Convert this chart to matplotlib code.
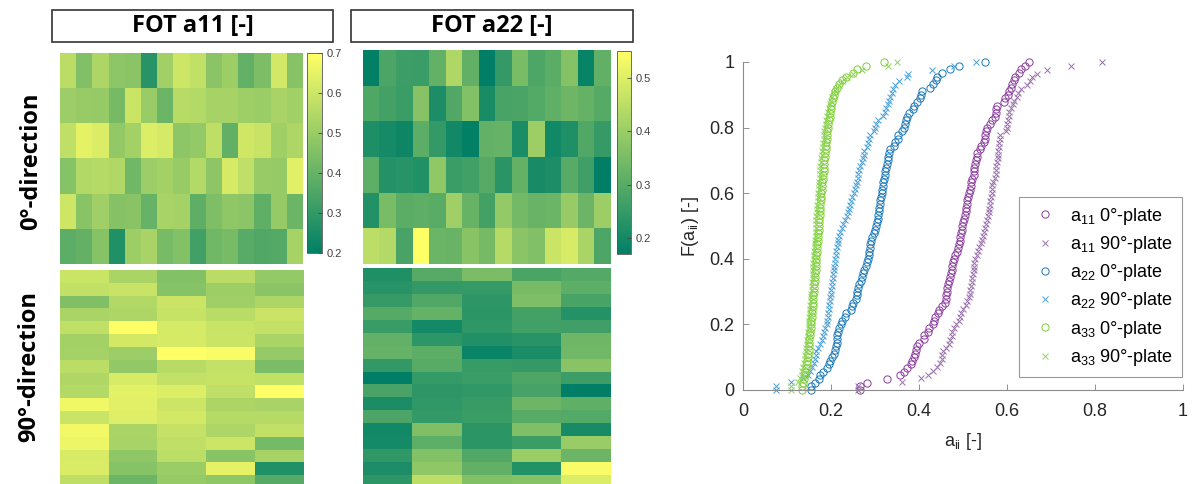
import numpy as np
import matplotlib.pyplot as plt
from matplotlib.patches import Rectangle

plt.rcParams['font.family'] = 'Liberation Sans'
plt.rcParams['mathtext.fontset'] = 'custom'
plt.rcParams['mathtext.rm'] = 'Liberation Sans'
plt.rcParams['mathtext.it'] = 'Liberation Sans'

# ------------------------------------------------------------------
# FOT components per cell, 0-direction (6 x 15) and 90-direction (17 x 5)
# ------------------------------------------------------------------
a11_0 = [
    [0.566, 0.453, 0.541, 0.476, 0.471, 0.281, 0.518, 0.604, 0.577, 0.473, 0.507, 0.394, 0.443, 0.611, 0.464],
    [0.505, 0.497, 0.493, 0.431, 0.596, 0.499, 0.412, 0.561, 0.552, 0.528, 0.525, 0.509, 0.503, 0.531, 0.516],
    [0.574, 0.650, 0.628, 0.486, 0.519, 0.631, 0.617, 0.477, 0.488, 0.572, 0.391, 0.608, 0.594, 0.514, 0.539],
    [0.462, 0.549, 0.555, 0.547, 0.421, 0.506, 0.521, 0.495, 0.551, 0.479, 0.619, 0.576, 0.498, 0.492, 0.641],
    [0.603, 0.466, 0.511, 0.461, 0.468, 0.401, 0.529, 0.524, 0.384, 0.445, 0.481, 0.474, 0.389, 0.494, 0.412],
    [0.381, 0.396, 0.463, 0.266, 0.508, 0.532, 0.436, 0.459, 0.327, 0.423, 0.433, 0.372, 0.357, 0.366, 0.526],
]
a22_0 = [
    [0.172, 0.283, 0.262, 0.257, 0.318, 0.431, 0.316, 0.163, 0.248, 0.352, 0.287, 0.306, 0.368, 0.181, 0.314],
    [0.288, 0.271, 0.259, 0.371, 0.213, 0.292, 0.366, 0.208, 0.276, 0.281, 0.294, 0.312, 0.334, 0.321, 0.297],
    [0.214, 0.203, 0.191, 0.308, 0.246, 0.198, 0.174, 0.317, 0.322, 0.211, 0.404, 0.196, 0.217, 0.289, 0.251],
    [0.309, 0.224, 0.231, 0.219, 0.386, 0.258, 0.268, 0.299, 0.233, 0.319, 0.207, 0.213, 0.302, 0.264, 0.155],
    [0.222, 0.352, 0.306, 0.311, 0.304, 0.407, 0.323, 0.272, 0.389, 0.343, 0.327, 0.329, 0.396, 0.331, 0.403],
    [0.452, 0.438, 0.279, 0.550, 0.329, 0.326, 0.372, 0.346, 0.441, 0.377, 0.362, 0.471, 0.492, 0.424, 0.286],
]
a11_90 = [
    [0.579, 0.522, 0.448, 0.550, 0.476],
    [0.564, 0.576, 0.452, 0.496, 0.462],
    [0.441, 0.534, 0.581, 0.500, 0.525],
    [0.519, 0.526, 0.574, 0.547, 0.582],
    [0.561, 0.745, 0.601, 0.577, 0.566],
    [0.506, 0.598, 0.603, 0.580, 0.521],
    [0.510, 0.494, 0.690, 0.668, 0.480],
    [0.552, 0.474, 0.545, 0.567, 0.432],
    [0.531, 0.604, 0.569, 0.575, 0.562],
    [0.536, 0.626, 0.613, 0.559, 0.815],
    [0.652, 0.622, 0.584, 0.524, 0.517],
    [0.579, 0.617, 0.599, 0.540, 0.543],
    [0.657, 0.520, 0.572, 0.527, 0.565],
    [0.645, 0.515, 0.560, 0.583, 0.421],
    [0.605, 0.471, 0.554, 0.455, 0.514],
    [0.609, 0.452, 0.491, 0.631, 0.262],
    [0.557, 0.404, 0.483, 0.469, 0.362],
]
a22_90 = [
    [0.171, 0.262, 0.322, 0.243, 0.258],
    [0.187, 0.204, 0.207, 0.318, 0.274],
    [0.209, 0.252, 0.196, 0.326, 0.238],
    [0.261, 0.286, 0.193, 0.232, 0.181],
    [0.214, 0.152, 0.198, 0.228, 0.224],
    [0.283, 0.194, 0.176, 0.184, 0.303],
    [0.288, 0.271, 0.136, 0.163, 0.307],
    [0.203, 0.266, 0.211, 0.206, 0.345],
    [0.076, 0.208, 0.216, 0.248, 0.221],
    [0.241, 0.197, 0.202, 0.236, 0.110],
    [0.165, 0.199, 0.212, 0.301, 0.276],
    [0.246, 0.205, 0.218, 0.264, 0.257],
    [0.148, 0.331, 0.191, 0.329, 0.161],
    [0.156, 0.273, 0.192, 0.217, 0.372],
    [0.201, 0.338, 0.254, 0.375, 0.298],
    [0.167, 0.355, 0.281, 0.179, 0.530],
    [0.195, 0.430, 0.334, 0.341, 0.480],
]

# a33 samples
a33_0 = [
    0.133, 0.137, 0.139, 0.141, 0.142, 0.144, 0.145, 0.146, 0.147,
    0.148, 0.149, 0.150, 0.150, 0.151, 0.152, 0.153, 0.154, 0.155,
    0.155, 0.156, 0.157, 0.157, 0.158, 0.159, 0.160, 0.160, 0.161,
    0.162, 0.162, 0.163, 0.164, 0.164, 0.165, 0.166, 0.166, 0.167,
    0.167, 0.168, 0.169, 0.169, 0.170, 0.170, 0.171, 0.172, 0.172,
    0.173, 0.173, 0.174, 0.175, 0.175, 0.176, 0.177, 0.177, 0.178,
    0.179, 0.180, 0.180, 0.181, 0.182, 0.183, 0.183, 0.184, 0.185,
    0.186, 0.187, 0.188, 0.188, 0.189, 0.190, 0.191, 0.192, 0.193,
    0.194, 0.195, 0.197, 0.198, 0.200, 0.201, 0.203, 0.205, 0.207,
    0.210, 0.214, 0.219, 0.226, 0.235,
    0.250, 0.260, 0.280, 0.320,
]
a33_90 = [
    0.110, 0.124, 0.130, 0.133, 0.135, 0.137, 0.139, 0.141,
    0.142, 0.143, 0.144, 0.145, 0.146, 0.147, 0.148, 0.149, 0.150,
    0.151, 0.151, 0.152, 0.153, 0.153, 0.154, 0.155, 0.155, 0.156,
    0.157, 0.157, 0.158, 0.159, 0.159, 0.160, 0.160, 0.161,
    0.162, 0.162, 0.163, 0.163, 0.164, 0.165, 0.165, 0.166, 0.166,
    0.167, 0.167, 0.168, 0.169, 0.169, 0.170, 0.171, 0.171,
    0.172, 0.173, 0.173, 0.174, 0.175, 0.175, 0.176, 0.177, 0.178,
    0.179, 0.180, 0.181, 0.182, 0.183, 0.184, 0.185, 0.186,
    0.188, 0.189, 0.191, 0.193, 0.195, 0.197, 0.200, 0.203, 0.207,
    0.212, 0.218, 0.226, 0.236,
    0.250, 0.270, 0.330, 0.350,
]

a11_lim = (0.2, 0.7)
a11_lim_90 = (0.2, 0.68)
a22_lim = (0.17, 0.55)
a22_lim_90 = (0.12, 0.54)
a11_ticks = [0.2, 0.3, 0.4, 0.5, 0.6, 0.7]
a22_ticks = [0.2, 0.3, 0.4, 0.5]

W, H = 1193, 484
fig = plt.figure(figsize=(W / 100, H / 100), dpi=100, facecolor='white')


def box(x0, y0, x1, y1):
    # pixel box (from top-left) -> figure fraction rect
    return [x0 / W, 1 - y1 / H, (x1 - x0) / W, (y1 - y0) / H]


def ecdf(v):
    x = np.sort(np.ravel(v))
    n = len(x)
    return np.r_[x[0], x], np.arange(n + 1) / n


# ------------------------------------------------------------------
# heatmaps
# ------------------------------------------------------------------
heatmaps = [
    (a11_0, box(60, 53, 303, 264), a11_lim),
    (a22_0, box(363, 50, 611, 264), a22_lim),
    (a11_90, box(60, 270, 304, 488), a11_lim_90),
    (a22_90, box(363, 268, 611, 488), a22_lim_90),
]
ims = []
for data, rect, lim in heatmaps:
    ax = fig.add_axes(rect)
    im = ax.imshow(np.array(data), cmap='summer', vmin=lim[0], vmax=lim[1],
                   aspect='auto', interpolation='nearest')
    ax.axis('off')
    ims.append(im)

for im, rect, ticks in [(ims[0], box(307, 53, 322, 253), a11_ticks),
                        (ims[1], box(617, 51, 631, 254), a22_ticks)]:
    cax = fig.add_axes(rect)
    cb = fig.colorbar(im, cax=cax, ticks=ticks)
    cb.ax.tick_params(labelsize=8, colors='#404040', direction='in', length=3, width=0.6)
    cb.ax.set_yticklabels(['%g' % t for t in ticks])
    cb.outline.set_edgecolor('#555555')
    cb.outline.set_linewidth(0.6)

# title boxes and row labels
for x0, x1, txt in [(52, 333, 'FOT a11 [-]'), (351, 633, 'FOT a22 [-]')]:
    fig.patches.append(Rectangle((x0 / W, 1 - 42 / H), (x1 - x0) / W, 32 / H,
                                 transform=fig.transFigure, fill=False,
                                 edgecolor='#333333', linewidth=1.2))
    fig.text((x0 + x1) / 2 / W, 1 - 26 / H, txt, ha='center', va='center',
             fontsize=17, fontweight='bold', family='Open Sans')

fig.text(31 / W, 1 - 161 / H, '0°-direction', rotation=90, ha='center', va='center',
         fontsize=17, fontweight='bold', family='Open Sans')
fig.text(29 / W, 1 - 367 / H, '90°-direction', rotation=90, ha='center', va='center',
         fontsize=17, fontweight='bold', family='Open Sans')

# ------------------------------------------------------------------
# cumulative distributions
# ------------------------------------------------------------------
ax = fig.add_axes(box(743, 62, 1183, 390))
series = [
    (a11_0, r'a$_{11}$ 0°-plate', '#8a3d9c', 'o'),
    (a11_90, r'a$_{11}$ 90°-plate', '#9a70ad', 'x'),
    (a22_0, r'a$_{22}$ 0°-plate', '#1a78b8', 'o'),
    (a22_90, r'a$_{22}$ 90°-plate', '#4aa0d4', 'x'),
    (a33_0, r'a$_{33}$ 0°-plate', '#7ccf2e', 'o'),
    (a33_90, r'a$_{33}$ 90°-plate', '#8ed35a', 'x'),
]
for data, label, color, marker in series:
    x, f = ecdf(data)
    if marker == 'o':
        ax.plot(x, f, 'o', mfc='none', mec=color, ms=5.2, mew=0.7, label=label, clip_on=False)
    else:
        ax.plot(x, f, 'x', color=color, ms=4.5, mew=0.7, label=label, clip_on=False)

ax.set_xlim(0, 1)
ax.set_ylim(0, 1)
ticks = [0, 0.2, 0.4, 0.6, 0.8, 1]
ax.set_xticks(ticks)
ax.set_yticks(ticks)
ax.set_xticklabels(['%g' % t for t in ticks])
ax.set_yticklabels(['%g' % t for t in ticks])
ax.tick_params(direction='in', labelsize=13, colors='#262626', length=4, width=0.6)
ax.tick_params(axis='both', color='#808080')
ax.tick_params(axis='x', pad=9)
ax.tick_params(axis='y', pad=6)
for s in ['top', 'right']:
    ax.spines[s].set_visible(False)
for s in ['left', 'bottom']:
    ax.spines[s].set_color('#8c8c8c')
    ax.spines[s].set_linewidth(0.8)
ax.set_xlabel(r'a$_{ii}$ [-]', fontsize=13, color='#262626', labelpad=8)
ax.set_ylabel(r'F(a$_{ii}$) [-]', fontsize=13, color='#262626', labelpad=6)

leg = ax.legend(loc='lower right', bbox_to_anchor=(0.998, 0.04), borderaxespad=0,
                fontsize=13, fancybox=False, edgecolor='#999999', framealpha=1,
                handletextpad=0.5, handlelength=1.8, labelspacing=0.4, borderpad=0.5)
leg.get_frame().set_linewidth(0.8)

fig.savefig('out.png', dpi=100, facecolor='white')
